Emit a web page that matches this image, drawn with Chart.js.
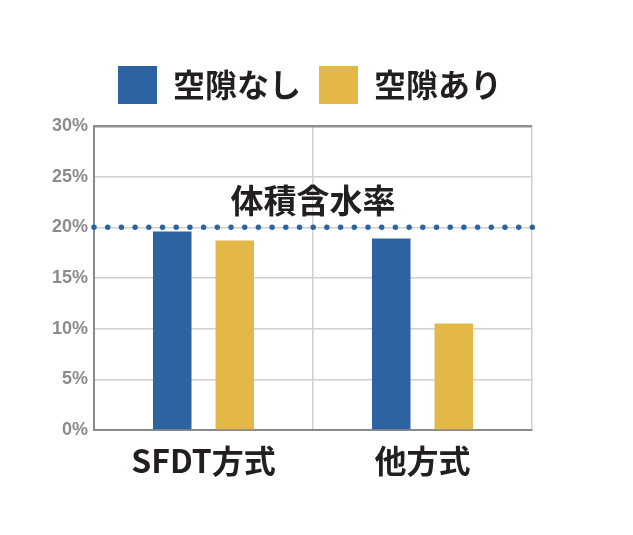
<!DOCTYPE html>
<html>
<head>
<meta charset="utf-8">
<script src="https://cdn.jsdelivr.net/npm/chart.js@4"></script>
<style>
  html, body { margin: 0; padding: 0; background: #fff; }
  #wrap { width: 633px; height: 535px; }
</style>
</head>
<body>
<div id="wrap"><canvas id="chart" width="633" height="535"></canvas></div>
<script>
// Dati del grafico
const categories = ['SFDT方式', '他方式'];
const seriesNames = ['空隙なし', '空隙あり'];
const noGapValues = [19.6, 18.9];
const withGapValues = [18.7, 10.5];
const yTicks = [0, 5, 10, 15, 20, 25, 30];
const refValue = 20;
const refLabel = '体積含水率';

const BLUE = '#2e63a2';
const YELLOW = '#e3b847';
const JP = '"Noto Sans CJK JP", "Noto Sans", sans-serif';

// Sfondo bianco
const bgPlugin = {
    id: 'bg',
    beforeDraw(chart) {
        const c = chart.ctx;
        c.save();
        c.fillStyle = '#fff';
        c.fillRect(0, 0, chart.width, chart.height);
        c.restore();
    }
};

// Linea a puntini e titolo
const refLinePlugin = {
    id: 'refLine',
    afterDatasetsDraw(chart) {
        const c = chart.ctx;
        const area = chart.chartArea;
        const y = chart.scales.y.getPixelForValue(refValue);
        c.save();
        c.strokeStyle = BLUE;
        c.lineWidth = 5.5;
        c.lineCap = 'round';
        c.setLineDash([0, 13.7]);
        c.beginPath();
        c.moveTo(area.left, y);
        c.lineTo(area.right + 2, y);
        c.stroke();
        c.setLineDash([]);
        c.fillStyle = '#231f1e';
        c.font = 'bold 33px ' + JP;
        c.textAlign = 'center';
        c.textBaseline = 'middle';
        c.fillText(refLabel, (area.left + area.right) / 2, y - 27);
        c.restore();
    }
};

const ctx = document.getElementById('chart').getContext('2d');
new Chart(ctx, {
    type: 'bar',
    data: {
        labels: categories,
        datasets: [{
            label: seriesNames[0],
            data: noGapValues,
            backgroundColor: BLUE,
            categoryPercentage: 0.571,
            barPercentage: 0.616
        }, {
            label: seriesNames[1],
            data: withGapValues,
            backgroundColor: YELLOW,
            categoryPercentage: 0.571,
            barPercentage: 0.616
        }]
    },
    options: {
        responsive: false,
        animation: false,
        layout: {
            padding: { top: 48, right: 13, bottom: 0, left: 0 }
        },
        plugins: {
            legend: {
                display: true,
                position: 'top',
                labels: {
                    boxWidth: 39,
                    boxHeight: 38,
                    padding: 18,
                    color: '#231f1e',
                    font: { family: JP, size: 32, weight: 'bold' }
                }
            },
            // spazio vuoto tra legenda e grafico
            title: {
                display: true,
                text: ' ',
                weight: 500,
                font: { size: 5 },
                padding: { top: 0, bottom: 6 }
            },
            tooltip: { enabled: false }
        },
        scales: {
            x: {
                afterFit: s => { s.height = 105; },
                grid: {
                    offset: true,
                    drawTicks: false,
                    color: (c) => (c.index === categories.length ? '#9a9a9a' : '#cfcfcf'),
                    lineWidth: 1.5
                },
                border: { color: '#8a8a8a', width: 2 },
                ticks: {
                    padding: 12,
                    color: '#231f1e',
                    font: { family: JP, size: 32, weight: 'bold' }
                }
            },
            y: {
                min: 0,
                max: 30,
                afterFit: s => { s.width = 94; },
                afterBuildTicks: s => { s.ticks = yTicks.map(v => ({ value: v })); },
                grid: {
                    drawTicks: false,
                    color: (c) => (c.tick && c.tick.value === 30 ? '#8f8f8f' : '#cfcfcf'),
                    lineWidth: (c) => (c.tick && c.tick.value === 30 ? 2.5 : 1.5)
                },
                border: { color: '#8a8a8a', width: 2 },
                ticks: {
                    padding: 6,
                    color: '#8c8c8c',
                    font: { family: '"Liberation Sans", Arial, sans-serif', size: 18, weight: 'bold' },
                    callback: v => v + '%'
                }
            },
            // asse vuoto a destra, solo per lo spazio
            y2: {
                position: 'right',
                min: 0,
                max: 30,
                afterFit: s => { s.width = 88; },
                grid: { display: false, drawOnChartArea: false },
                border: { display: false },
                ticks: { display: false }
            }
        }
    },
    plugins: [bgPlugin, refLinePlugin]
});
</script>
</body>
</html>
